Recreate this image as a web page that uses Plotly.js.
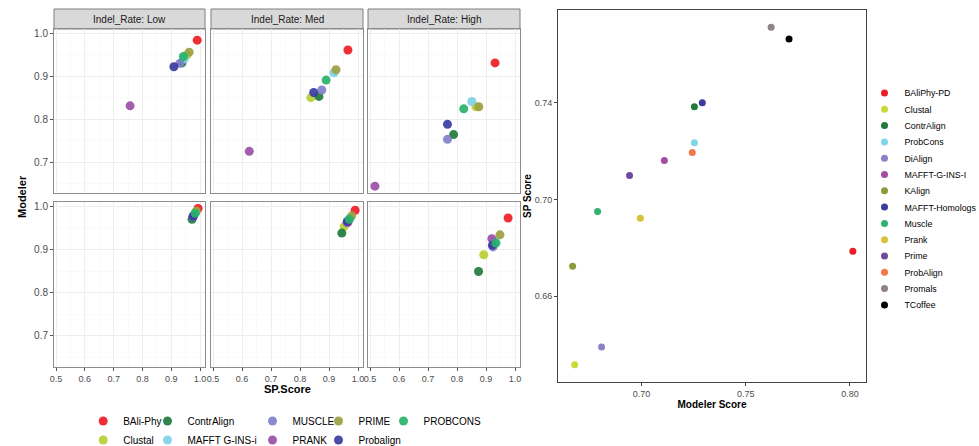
<!DOCTYPE html>
<html><head><meta charset="utf-8">
<script src="https://cdn.plot.ly/plotly-3.0.1.min.js"></script>
<style>html,body{margin:0;padding:0;background:#fff;}#chart{width:979px;height:446px;}</style>
</head><body><div id="chart"></div>
<script>
// ---- Left figure: facets (Indel_Rate: Low / Med / High), two rows ----
const methods = ['BAli-Phy','Clustal','ContrAlign','MAFFT G-INS-i','MUSCLE','PRANK','PRIME','Probalign','PROBCONS'];
const methodColors = ['#ee1c25','#b8cf33','#1f7a3c','#80d0e8','#8080c8','#9b4fa8','#9ca040','#3b3ba0','#27b36a'];
const indelRates = ['Low','Med','High'];

// top row
const spTopLow   = [0.990,0.955,0.937,0.945,0.930,0.757,0.962,0.909,0.942];
const modTopLow  = [0.984,0.950,0.931,0.940,0.930,0.831,0.956,0.922,0.946];
const spTopMed   = [0.965,0.837,0.865,0.917,0.875,0.625,0.924,0.847,0.890];
const modTopMed  = [0.961,0.850,0.853,0.908,0.868,0.725,0.915,0.862,0.891];
const spTopHigh  = [0.931,0.865,0.788,0.851,0.767,0.517,0.875,0.767,0.823];
const modTopHigh = [0.931,0.829,0.764,0.841,0.753,0.644,0.829,0.788,0.824];
// bottom row
const spBotLow   = [0.993,0.985,0.972,0.980,0.975,0.978,0.987,0.976,0.983];
const modBotLow  = [0.995,0.987,0.970,0.982,0.976,0.979,0.989,0.977,0.984];
const spBotMed   = [0.990,0.952,0.944,0.972,0.962,0.965,0.978,0.963,0.970];
const modBotMed  = [0.991,0.953,0.938,0.972,0.962,0.963,0.978,0.965,0.970];
const spBotHigh  = [0.976,0.892,0.874,0.930,0.924,0.920,0.948,0.922,0.934];
const modBotHigh = [0.973,0.888,0.849,0.918,0.906,0.925,0.934,0.910,0.915];

// ---- Right figure ----
const tools = ['BAliPhy-PD','Clustal','ContrAlign','ProbCons','DiAlign','MAFFT-G-INS-I','KAlign','MAFFT-Homologs','Muscle','Prank','Prime','ProbAlign','Promals','TCoffee'];
const toolColors = ['#ee1c25','#c8d93a','#1f7a3c','#7fd6e6','#8a82c9','#a24ea6','#8f9a3a','#3b3ba0','#2fb36e','#d9c23a','#6e4a9a','#f0784a','#8f8288','#000000'];
const modelerScore = [0.8014,0.6680,0.7254,0.7254,0.6809,0.7110,0.6670,0.7292,0.6790,0.6995,0.6943,0.7244,0.7622,0.7708];
const spScore      = [0.6786,0.6316,0.7384,0.7235,0.6390,0.7161,0.6724,0.7400,0.6950,0.6922,0.7099,0.7194,0.7713,0.7664];

const panels = [
  {row:0,col:0,sp:spTopLow,mod:modTopLow},
  {row:0,col:1,sp:spTopMed,mod:modTopMed},
  {row:0,col:2,sp:spTopHigh,mod:modTopHigh},
  {row:1,col:0,sp:spBotLow,mod:modBotLow},
  {row:1,col:1,sp:spBotMed,mod:modBotMed},
  {row:1,col:2,sp:spBotHigh,mod:modBotHigh}
];

const W=979,H=446;
const fx = p => p/W, fy = p => 1-p/H;
const colX = [[54,205],[211,363],[368,520]];
const rowY = [[29,193],[202,367]];
const FONT = 'Liberation Sans, Arial, Helvetica, sans-serif';

const traces = [];
const layout = {
  width:W,height:H,margin:{l:0,r:0,t:0,b:0,autoexpand:false},
  paper_bgcolor:'#fff',plot_bgcolor:'#fff',
  font:{family:FONT,size:10,color:'#000'},
  showlegend:true,
  shapes:[],annotations:[]
};

// one single-entry legend per key, placed like the reference keys
let legendCount = 0;
function makeLegend(markerX, centerY, fontSize){
  legendCount++;
  const id = legendCount===1 ? 'legend' : 'legend'+legendCount;
  layout[id] = {x:fx(markerX-24.5),y:fy(centerY),xanchor:'left',yanchor:'middle',orientation:'v',
    bgcolor:'rgba(0,0,0,0)',borderwidth:0,font:{family:FONT,size:fontSize,color:'#000'},
    itemclick:false,itemdoubleclick:false};
  return id;
}
// left keys: 2 rows, filled column by column
const keyColX = [107.7,172,277,343,408];
const keyRowY = [421,440];
const leftLegendIds = methods.map((m,i)=>makeLegend(keyColX[Math.floor(i/2)], keyRowY[i%2], 10));
// right keys: one column
const rightLegendIds = tools.map((t,i)=>makeLegend(889, 93 + i*16.3, 8.8));

panels.forEach((p,k)=>{
  const n = k+1;
  const xa = 'xaxis'+(n===1?'':n), ya = 'yaxis'+(n===1?'':n);
  const xr = 'x'+(n===1?'':n), yr = 'y'+(n===1?'':n);
  layout[xa] = {
    domain:[fx(colX[p.col][0]),fx(colX[p.col][1])], anchor:yr,
    range:[0.493,1.017], tick0:0.5, dtick:0.1, tickformat:'.1f',
    showgrid:true, gridcolor:'#eeeeee', gridwidth:1,
    minor:{dtick:0.05, tick0:0.5, showgrid:true, gridcolor:'#f7f7f7', gridwidth:0.6},
    zeroline:false, showline:true, mirror:true, linecolor:'#8c8c8c', linewidth:1,
    ticks: p.row===1?'outside':'', ticklen:3, tickcolor:'#555',
    showticklabels: p.row===1, tickfont:{family:FONT,size:9,color:'#4d4d4d'}
  };
  layout[ya] = {
    domain:[fy(rowY[p.row][1]),fy(rowY[p.row][0])], anchor:xr,
    range:[0.628,1.010], tick0:0.7, dtick:0.1, tickformat:'.1f',
    showgrid:true, gridcolor:'#eeeeee', gridwidth:1,
    minor:{dtick:0.05, tick0:0.7, showgrid:true, gridcolor:'#f7f7f7', gridwidth:0.6},
    zeroline:false, showline:true, mirror:true, linecolor:'#8c8c8c', linewidth:1,
    ticks: p.col===0?'outside':'', ticklen:3, tickcolor:'#555',
    showticklabels: p.col===0, tickfont:{family:FONT,size:10,color:'#4d4d4d'}
  };
  methods.forEach((m,i)=>{
    traces.push({
      type:'scatter',mode:'markers',name:m,legendgroup:m,
      legend: leftLegendIds[i],
      showlegend:k===0,
      x:[p.sp[i]],y:[p.mod[i]],xaxis:xr,yaxis:yr,
      marker:{color:methodColors[i],size:9,opacity:0.92,line:{width:0}},
      hoverinfo:'name+x+y'
    });
  });
});

// strips
indelRates.forEach((r,c)=>{
  layout.shapes.push({type:'rect',xref:'paper',yref:'paper',
    x0:fx(colX[c][0]),x1:fx(colX[c][1]),y0:fy(29),y1:fy(9),
    fillcolor:'#d9d9d9',line:{color:'#7f7f7f',width:1},layer:'below'});
  layout.annotations.push({xref:'paper',yref:'paper',x:fx((colX[c][0]+colX[c][1])/2),y:fy(19),
    text:'Indel_Rate: '+r,showarrow:false,xanchor:'center',yanchor:'middle',
    font:{family:FONT,size:10,color:'#1a1a1a'}});
});
layout.annotations.push({xref:'paper',yref:'paper',x:fx(22),y:fy(197),text:'Modeler',textangle:-90,
  showarrow:false,xanchor:'center',yanchor:'middle',font:{family:FONT,size:11,color:'#000',weight:'bold'}});
layout.annotations.push({xref:'paper',yref:'paper',x:fx(287),y:fy(389),text:'SP.Score',
  showarrow:false,xanchor:'center',yanchor:'middle',font:{family:FONT,size:11,color:'#000',weight:'bold'}});
layout.annotations.push({xref:'paper',yref:'paper',x:fx(528),y:fy(196),text:'SP Score',textangle:-90,
  showarrow:false,xanchor:'center',yanchor:'middle',font:{family:FONT,size:10,color:'#000',weight:'bold'}});

// right panel
layout.xaxis7 = {
  domain:[fx(558),fx(866)], anchor:'y7', range:[0.660,0.8077], tick0:0.70, dtick:0.05, tickformat:'.2f',
  showgrid:false, zeroline:false, showline:true, mirror:true, linecolor:'#444', linewidth:1,
  ticks:'outside', ticklen:3, tickcolor:'#444', tickfont:{family:FONT,size:9,color:'#4d4d4d'},
  title:{text:'Modeler Score',font:{family:FONT,size:10,color:'#000',weight:'bold'},standoff:1}
};
layout.yaxis7 = {
  domain:[fy(382),fy(10)], anchor:'x7', range:[0.6245,0.7784], tick0:0.66, dtick:0.04, tickformat:'.2f',
  showgrid:false, zeroline:false, showline:true, mirror:true, linecolor:'#444', linewidth:1,
  ticks:'outside', ticklen:3, tickcolor:'#444', tickfont:{family:FONT,size:9,color:'#4d4d4d'}
};
tools.forEach((t,i)=>{
  traces.push({
    type:'scatter',mode:'markers',name:t,legend:rightLegendIds[i],
    x:[modelerScore[i]],y:[spScore[i]],xaxis:'x7',yaxis:'y7',
    marker:{color:toolColors[i],size:7,line:{width:0}},
    hoverinfo:'name+x+y'
  });
});

Plotly.newPlot('chart',traces,layout,{staticPlot:true,displayModeBar:false});
</script></body></html>
